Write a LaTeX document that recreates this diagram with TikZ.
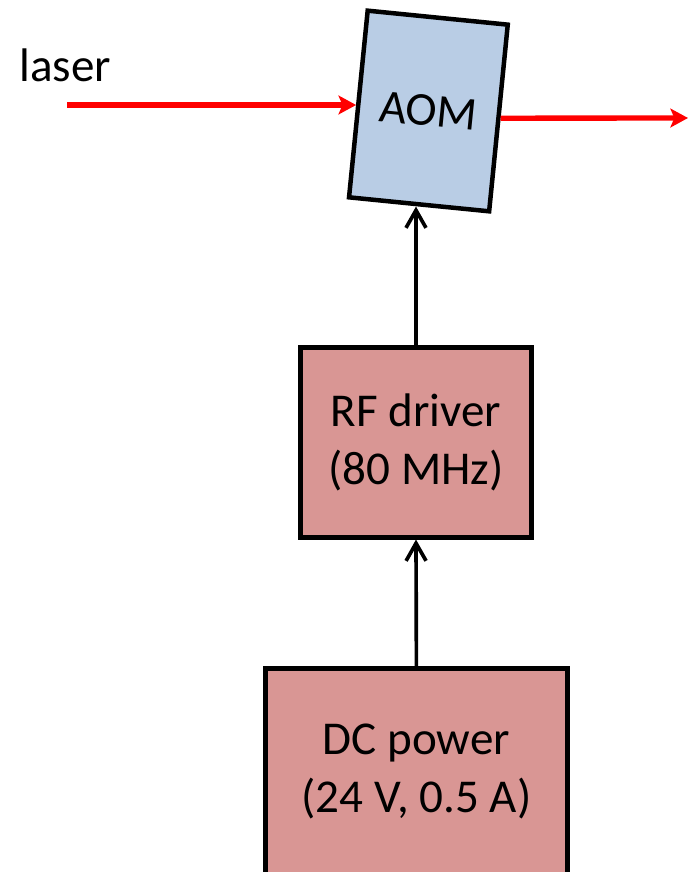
\documentclass[tikz,border=0pt]{standalone}
\usepackage{fontspec}
\setmainfont{Carlito}
\usepackage{tikz}
\usetikzlibrary{arrows.meta, positioning, calc}
\definecolor{beamred}{RGB}{255,0,0}
\definecolor{aomblue}{RGB}{185,205,229}
\definecolor{boxred}{RGB}{217,150,148}
\newcommand{\bigtext}{\fontsize{33.5}{41}\selectfont}
\tikzset{
  aomblock/.style={rectangle, draw=black, fill=aomblue,
    minimum width=3.52cm, minimum height=4.69cm,
    font=\bigtext, line width=3.2pt, rotate=-5.7},
  redblock/.style={rectangle, draw=black, fill=boxred,
    align=center, inner sep=0pt,
    font=\bigtext, line width=3.2pt},
  arrow/.style={-{Straight Barb[length=0.44cm, width=0.5cm]}, line width=2.6pt, color=black},
  redarrow/.style={-{Stealth[length=0.44cm, width=0.47cm, inset=0.1cm]}, line width=3.8pt, color=beamred}
}

\begin{document}
\begin{tikzpicture}
  \useasboundingbox (0,0) rectangle (17.2,-21.8);

  % Label
  \node (laser) at (0.48,-2.05) [anchor=base west, inner sep=0pt, font=\bigtext] {laser};

  % Blocks
  \node (AOM) at (10.71,-2.775) [aomblock] {AOM};
  \node (RF) at (10.4,-11.06) [redblock, minimum width=5.77cm, minimum height=4.745cm] {RF driver\\(80 MHz)};
  \node (DC) at (10.41,-19.29) [redblock, minimum width=7.545cm, minimum height=5.145cm] {DC power\\(24 V, 0.5 A)};

  % Beam
  \coordinate (laserin) at (1.675,-2.625);
  \coordinate (beamout) at (17.2,-2.95);
  \draw[redarrow] (laserin) -- (laserin -| AOM.west);
  \draw[redarrow] (AOM.east) -- (beamout);

  % Electrical connections
  \draw[arrow] (RF.north) -- (RF.north |- AOM.south);
  \draw[arrow] (DC.north) -- (RF.south);
\end{tikzpicture}
\end{document}
